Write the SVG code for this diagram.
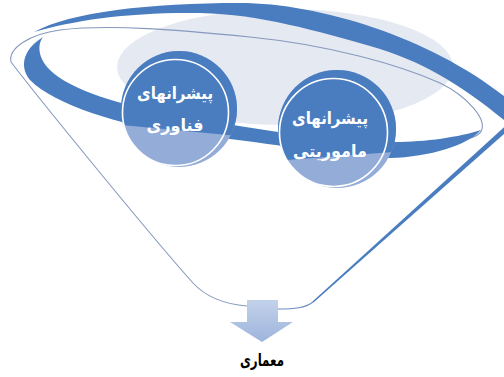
<svg xmlns="http://www.w3.org/2000/svg" width="504" height="377" viewBox="0 0 504 377">
<style>
.dark{fill:#4a7dbf}
.light{fill:#93acd8}
.thin{fill:none;stroke:#8699bd;stroke-width:1.1}
.ring{fill:none;stroke:#ffffff;stroke-width:1.6}
.ctext{font-family:"DejaVu Sans","Noto Sans",sans-serif;font-weight:bold;font-size:17px;fill:#ffffff;text-anchor:middle}
.label{font-family:"DejaVu Sans","Noto Sans",sans-serif;font-weight:bold;font-size:17px;fill:#000000;text-anchor:middle}
</style>
<defs>
<linearGradient id="arrowGrad" x1="0" y1="0" x2="0" y2="1">
<stop offset="0" stop-color="#c3d2ea"/>
<stop offset="1" stop-color="#9db4dc"/>
</linearGradient>
<clipPath id="clipL"><polygon points="100,0 260,0 260,138 100,123"/></clipPath>
<clipPath id="clipR"><polygon points="260,0 420,0 420,150 260,162"/></clipPath>
</defs>
<rect width="504" height="377" fill="#ffffff"/>
<g id="funnel">
<ellipse cx="285" cy="67" rx="168" ry="58" fill="#e4e9f2"/>
<path class="dark" d="M34,32 C70,12 150,3 240,3 C320,3 430,38 504,96 L504,120 C460,84 420,60 370,46 C320,32 260,14 200,13 C130,12 75,20 34,32 Z"/>
<path class="thin" d="M380,155 C420,147 470,143 480,133 C490,120 465,95 440,83 C400,65 330,45 250,37 C180,30 110,24 60,30 C30,34 8,48 11,62 C40,100 150,235 193,283 C205,296 222,304 247,306"/>
<polygon class="dark" points="509.7,128.9 313.5,302.6 312.5,301.4 506.3,125.1"/>
<path fill="none" stroke="#6d8cc4" stroke-width="1.2" d="M313,302 C305,308 295,309 278,309"/>
<path class="dark" d="M43,37 C25,48 18,65 30,80 C55,105 120,125 180,134 C260,140 330,156 390,158 C430,157 468,145 481,130 C460,137 425,142 395,142 C340,142 270,132 180,116 C120,105 70,90 50,70 C38,58 37,45 43,37 Z"/>
</g>
<g id="node-technology">
<circle cx="179" cy="109" r="58" class="light"/>
<circle cx="179" cy="109" r="58" class="dark" clip-path="url(#clipL)"/>
<circle cx="175.5" cy="112.5" r="53" class="ring"/>
<text class="ctext" x="175" y="99" textLength="76" lengthAdjust="spacingAndGlyphs">پیشرانهای</text>
<text class="ctext" x="175" y="131" textLength="57" lengthAdjust="spacingAndGlyphs">فناوری</text>
</g>
<g id="node-mission">
<circle cx="337" cy="129" r="59" class="light"/>
<circle cx="337" cy="129" r="59" class="dark" clip-path="url(#clipR)"/>
<circle cx="333.5" cy="132.5" r="54" class="ring"/>
<text class="ctext" x="330" y="124" textLength="76" lengthAdjust="spacingAndGlyphs">پیشرانهای</text>
<text class="ctext" x="330" y="157" textLength="74" lengthAdjust="spacingAndGlyphs">ماموریتی</text>
</g>
<g id="connectors">
<polygon points="247,300 278,300 278,322 293,322 262,342 230,322 247,322" fill="url(#arrowGrad)"/>
</g>
<g id="node-architecture">
<text class="label" x="262" y="366" textLength="44" lengthAdjust="spacingAndGlyphs">معماری</text>
</g>
</svg>
